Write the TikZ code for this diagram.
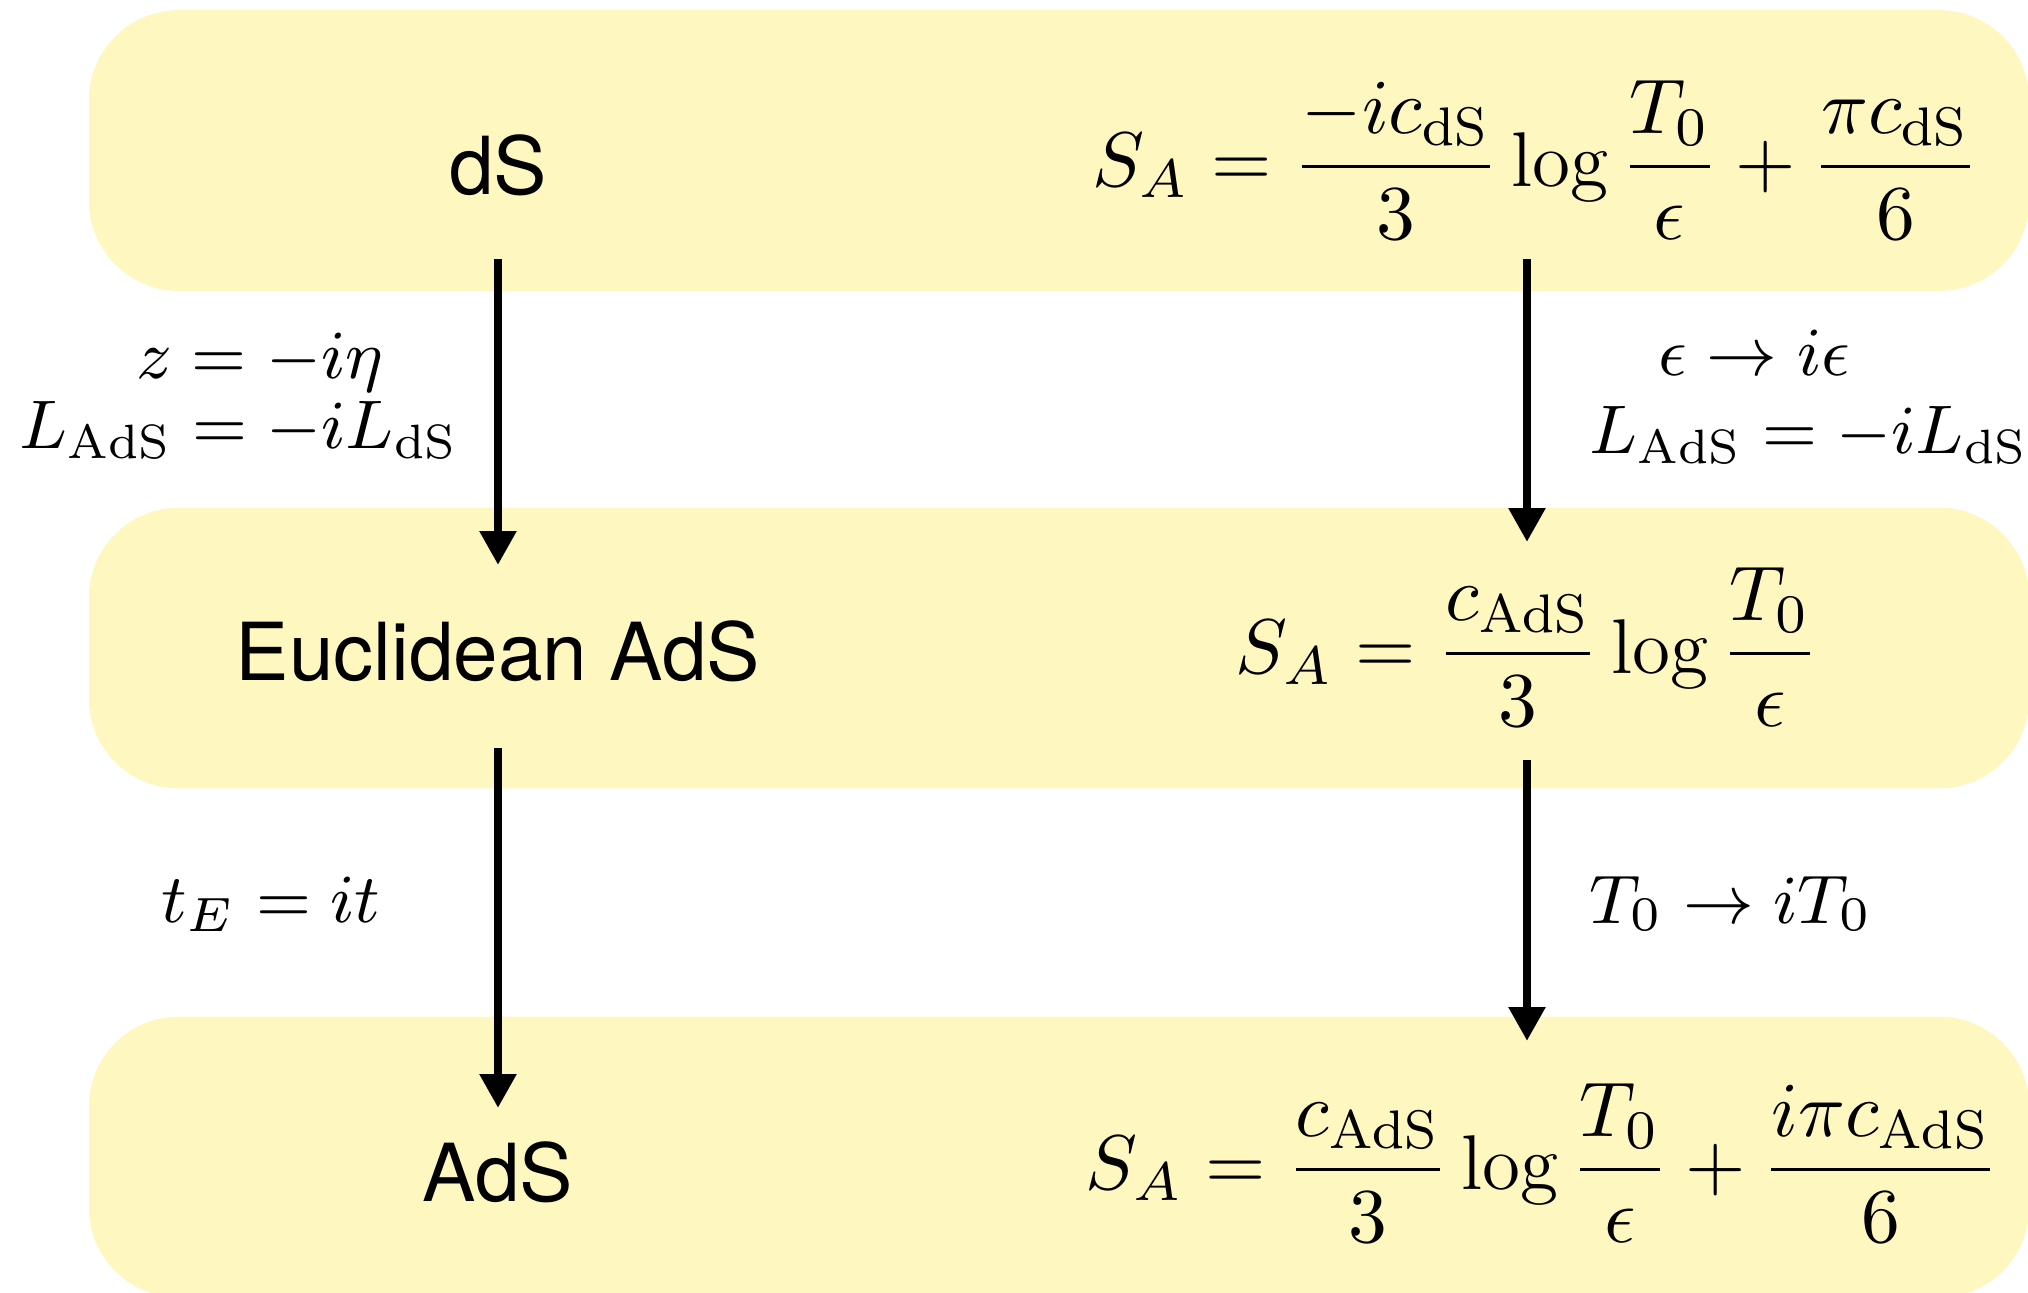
\RequirePackage{fix-cm}
\documentclass[tikz,border=0pt]{standalone}
\usepackage{amsmath}
\usepackage{fontspec}
\newfontfamily\heros{TeX Gyre Heros}
\usetikzlibrary{arrows.meta, calc, positioning}
\definecolor{boxyellow}{RGB}{255,247,192}
\tikzstyle{arrow} = [line width=1.23pt,-{Triangle[width=0.175cm,length=0.17cm]}]
\tikzstyle{band} = [rectangle, rounded corners=0.45cm, fill=boxyellow, minimum width=9.71cm, minimum height=1.405cm]
\tikzstyle{word} = [font=\heros\fontsize{11.4}{13}\selectfont, inner sep=0pt, anchor=base]
\tikzstyle{formula} = [font=\fontsize{11.05}{13}\selectfont, inner sep=0pt, anchor=base]
\tikzstyle{relabel} = [font=\fontsize{9.8}{12}\selectfont, inner sep=0pt, anchor=base west]

\begin{document}
\begin{tikzpicture}[x=0.005cm, y=-0.005cm]
  \useasboundingbox (0,0) rectangle (2028,1293);

  % yellow bands
  \node [band] (top) at (1059,150.5) {};
  \node [band] (mid) at (1059,648) {};
  \node [band] (bot) at (1059,1157) {};

  % left column
  \node [word] (ds) at (498,194) {dS};
  \node [word] (euc) at (498,680) {Euclidean AdS};
  \node [word] (ads) at (498,1201) {AdS};

  % right column
  \node [formula] (sa1) at (1535,186)
    {$\displaystyle S_A = \frac{-ic_{\mathrm{dS}}}{3}\log\frac{T_0}{\epsilon}+\frac{\pi c_{\mathrm{dS}}}{6}$};
  \node [formula] (sa2) at (1527,673)
    {$\displaystyle S_A = \frac{c_{\mathrm{AdS}}}{3}\log\frac{T_0}{\epsilon}$};
  \node [formula] (sa3) at (1542,1189)
    {$\displaystyle S_A = \frac{c_{\mathrm{AdS}}}{3}\log\frac{T_0}{\epsilon}+\frac{i\pi c_{\mathrm{AdS}}}{6}$};

  % maps between the rows
  \node [relabel] (zeta) at (135,378) {$z = -i\eta$};
  \node [relabel] (lads1) at (18,448) {$L_{\mathrm{AdS}} = -iL_{\mathrm{dS}}$};
  \node [relabel] (epsmap) at (1657,375) {$\epsilon \to i\epsilon$};
  \node [relabel] (lads2) at (1588,453) {$L_{\mathrm{AdS}} = -iL_{\mathrm{dS}}$};
  \node [relabel] (wick) at (160,922) {$t_E = it$};
  \node [relabel] (tmap) at (1588,923) {$T_0 \to iT_0$};

  \draw [arrow] ($(ds.base)+(0,65)$) -- ($(euc.base)+(0,-115)$);
  \draw [arrow] ($(euc.base)+(0,68)$) -- ($(ads.base)+(0,-93)$);
  \draw [arrow] ($(sa1.base)+(-8,73)$) -- ($(sa2.base)+(0,-131)$);
  \draw [arrow] ($(sa2.base)+(0,87)$) -- ($(sa3.base)+(-15,-148)$);
\end{tikzpicture}
\end{document}
